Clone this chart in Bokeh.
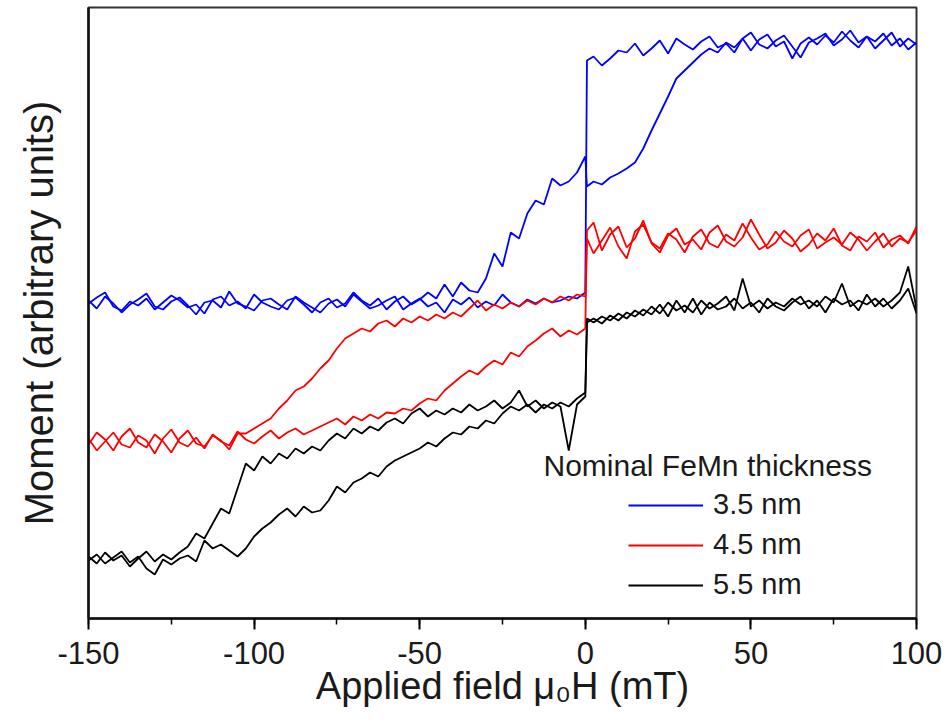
import numpy as np
from bokeh.plotting import figure
from bokeh.models import (Range1d, SingleIntervalTicker, FixedTicker, Legend, LegendItem, Label,
                          CustomJSTickFormatter)
from bokeh.embed import file_html
from bokeh.resources import INLINE

# Applied field grid (mT): -150..0 step 2.5, then 0.5, then 2.5..100 step 2.5
field = np.concatenate([np.arange(-150, 0.01, 2.5), [0.5], np.arange(2.5, 100.01, 2.5)])

# 3.5 nm FeMn (blue) - increasing-field branch
blue_up_neg = [318, 310, 322, 315, 306, 314, 319, 325, 312, 309, 317, 321, 313, 304, 316, 318, 311, 327, 315, 312,
               308, 318, 320, 314, 309, 322, 316, 311, 306, 315, 319, 312, 324, 317, 310, 313, 318, 322, 309, 315,
               320, 312, 316, 306, 319, 314, 321, 311, 317, 313, 324, 316, 312, 319, 315, 320, 316, 318, 322, 320, 326]
blue_up_pos = [558, 562, 553, 560, 568, 566, 575, 563, 570, 578, 565, 580, 574, 569, 577, 582, 571, 575, 566, 580,
               586, 574, 570, 578, 583, 572, 561, 576, 580, 585, 573, 579, 588, 576, 582, 570, 578, 586, 572, 580, 574]
# 3.5 nm FeMn (blue) - decreasing-field branch
blue_dn_neg = [315, 321, 326, 312, 308, 317, 313, 320, 309, 316, 323, 318, 311, 314, 305, 319, 322, 313, 317, 310,
               324, 316, 312, 309, 318, 321, 314, 306, 316, 320, 311, 315, 326, 318, 313, 320, 309, 317, 322, 314,
               319, 326, 320, 334, 322, 336, 328, 326, 340, 365, 352, 386, 380, 405, 418, 414, 440, 433, 437, 446, 462]
blue_dn_pos = [432, 437, 434, 441, 445, 450, 456, 470, 488, 505, 522, 540, 548, 556, 564, 570, 566, 576, 571, 580,
               568, 579, 584, 572, 577, 560, 575, 581, 574, 583, 576, 587, 578, 571, 582, 577, 585, 573, 580, 569, 576]

# 4.5 nm FeMn (red)
red_up_neg = [180, 168, 177, 186, 174, 171, 183, 178, 165, 180, 189, 176, 172, 181, 170, 184, 177, 173, 187, 179,
              175, 182, 188, 180, 186, 190, 184, 188, 192, 196, 200, 194, 202, 198, 204, 200, 206, 205, 210, 208,
              215, 220, 218, 228, 235, 242, 248, 244, 252, 258, 254, 266, 262, 272, 278, 285, 290, 282, 288, 284, 290]
red_up_pos = [388, 396, 368, 384, 392, 371, 380, 398, 375, 366, 383, 390, 374, 379, 369, 386, 393, 377, 372, 381,
              399, 384, 370, 376, 388, 380, 367, 374, 385, 378, 390, 373, 368, 382, 377, 386, 371, 379, 383, 375, 392]
red_dn_neg = [174, 186, 179, 168, 182, 190, 176, 171, 184, 177, 166, 180, 188, 175, 172, 183, 178, 169, 185,
              185, 190, 195, 200, 210, 218, 228, 232, 240, 250, 258, 270, 280, 285, 290, 287, 295, 298, 292, 300,
              296, 302, 298, 304, 300, 306, 302, 310, 318, 308, 314, 310, 316, 312, 318, 314, 320, 316, 322, 318, 324, 322]
red_dn_pos = [380, 365, 378, 391, 372, 360, 387, 394, 376, 370, 385, 379, 366, 382, 389, 375, 371, 384, 378, 395,
              381, 369, 374, 387, 377, 372, 383, 389, 370, 376, 381, 374, 386, 379, 368, 377, 385, 372, 380, 376, 388]

# 5.5 nm FeMn (black)
black_up_neg = [58, 64, 55, 61, 67, 56, 62, 50, 44, 59, 54, 60, 63, 57,
                78, 70, 74, 68, 62, 70, 82, 90, 96, 104, 110, 102, 112, 106, 108, 118, 132, 126, 136, 140,
                146, 142, 152, 158, 162, 166, 170, 176, 172, 180, 186, 184, 192, 190, 198, 195, 205, 212, 208, 214,
                206, 214, 210, 216, 212, 220, 226]
black_up_pos = [300, 296, 302, 298, 305, 300, 308, 303, 312, 305, 316, 308, 313, 306, 318, 310, 315, 322, 308, 340,
                312, 318, 310, 316, 312, 320, 314, 318, 312, 322, 316, 335, 312, 318, 314, 320, 312, 318, 326, 352, 310]
black_dn_neg = [62, 55, 66, 58, 63, 52, 60, 67, 57, 64, 59,
                66, 72, 85, 80, 95, 110, 105, 130, 155, 148, 162, 155, 165, 160, 170, 165, 172, 168, 178, 185,
                180, 190, 185, 192, 188, 196, 200, 195, 205, 210, 202, 208, 204, 210, 206, 214, 208, 212, 218, 210,
                216, 228, 212, 218, 210, 216, 212, 168, 214, 222]
black_dn_pos = [296, 300, 295, 303, 298, 306, 302, 309, 304, 314, 302, 318, 306, 320, 304, 316, 309, 312, 320, 310,
                316, 306, 320, 312, 308, 316, 322, 310, 318, 306, 320, 314, 318, 308, 324, 312, 320, 310, 318, 330, 305]

series_labels = ["3.5 nm", "4.5 nm", "5.5 nm"]
series_colors = ["#0000ff", "#ff0000", "#000000"]
legend_title = "Nominal FeMn thickness"

FONT = "Liberation Sans"
TXT = "#1a1a1a"

p = figure(width=947, height=726, output_backend="svg", toolbar_location=None,
           x_range=Range1d(-150, 100), y_range=Range1d(0, 611),
           min_border_left=88, min_border_right=31, min_border_top=7, min_border_bottom=108)
p.grid.visible = False
p.background_fill_color = "white"
p.outline_line_color = "#333333"
p.outline_line_width = 2

branches = [
    (blue_up_neg + blue_up_pos, blue_dn_neg + blue_dn_pos),
    (red_up_neg + red_up_pos, red_dn_neg + red_dn_pos),
    (black_up_neg + black_up_pos, black_dn_neg + black_dn_pos),
]
legend_items = []
for (up, dn), lab, col in zip(branches, series_labels, series_colors):
    r1 = p.line(field, up, line_color=col, line_width=1.8)
    r2 = p.line(field, dn, line_color=col, line_width=1.8)
    legend_items.append(LegendItem(label=lab, renderers=[r1]))

# x axis
xa = p.xaxis[0]
xa.ticker = SingleIntervalTicker(interval=50, num_minor_ticks=2)
xa.formatter = CustomJSTickFormatter(code="return tick.toFixed(0);")
xa.axis_label = "Applied field μ₀H (mT)"
xa.axis_label_text_font = FONT
xa.axis_label_text_font_size = "38px"
xa.axis_label_text_font_style = "normal"
xa.axis_label_text_color = TXT
xa.axis_label_standoff = -2
xa.major_label_text_font = FONT
xa.major_label_text_font_size = "31px"
xa.major_label_text_color = TXT
xa.major_label_standoff = 12
xa.axis_line_width = 2.5
xa.axis_line_color = "#111111"
xa.major_tick_out = 11
xa.major_tick_in = 0
xa.minor_tick_out = 6
xa.minor_tick_in = 0
xa.major_tick_line_width = 2
xa.minor_tick_line_width = 1.5

# y axis (no ticks)
ya = p.yaxis[0]
ya.ticker = FixedTicker(ticks=[])
ya.axis_label = "Moment (arbitrary units)"
ya.axis_label_text_font = FONT
ya.axis_label_text_font_size = "40px"
ya.axis_label_text_font_style = "normal"
ya.axis_label_text_color = TXT
ya.axis_label_standoff = 28
ya.major_tick_out = 0
ya.major_tick_in = 0
ya.minor_tick_out = 0
ya.minor_tick_in = 0
ya.major_label_text_font_size = "0px"
ya.axis_line_width = 2.5
ya.axis_line_color = "#111111"

legend = Legend(items=legend_items, location=(540, 17), padding=0, margin=0,
                spacing=7, glyph_width=75, glyph_height=30, label_height=30,
                label_standoff=10, label_text_font=FONT, label_text_font_size="29px",
                label_text_color=TXT, border_line_alpha=0, background_fill_alpha=0)
p.add_layout(legend)

p.add_layout(Label(x=455, y=153, x_units="screen", y_units="screen", text=legend_title,
                   text_font=FONT, text_font_size="30px", text_baseline="middle",
                   text_color=TXT))

open("out.html", "w").write(file_html(p, INLINE))
